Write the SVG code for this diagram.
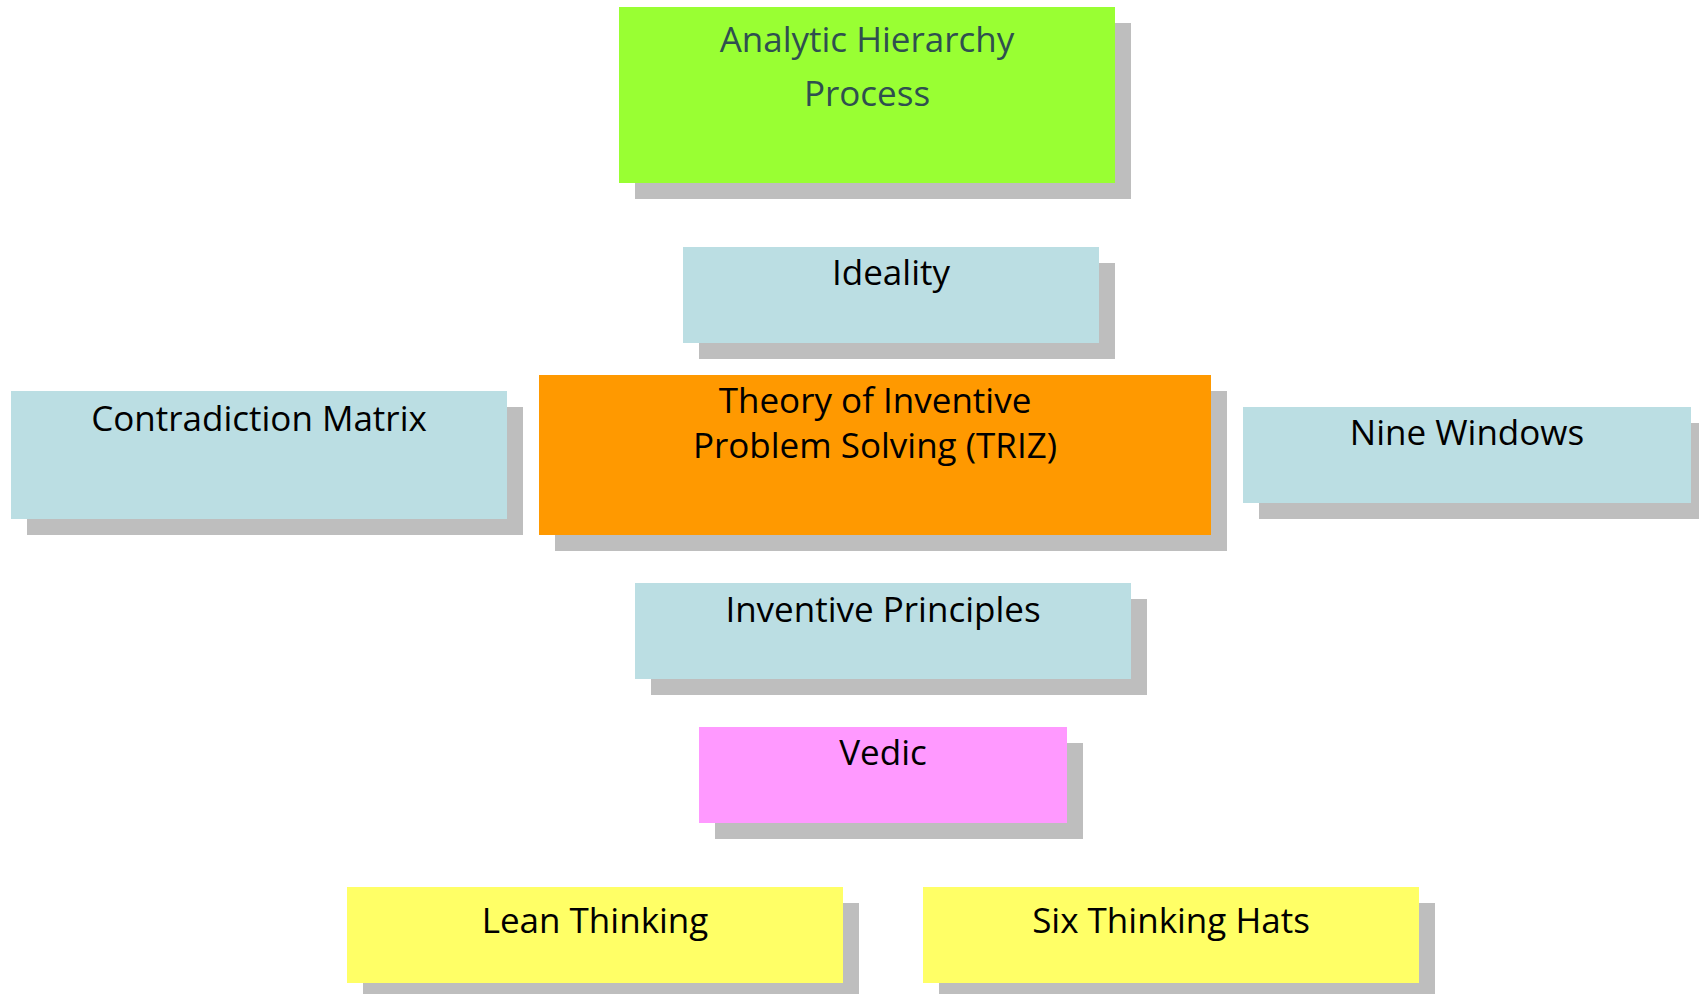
<svg xmlns="http://www.w3.org/2000/svg" width="1699" height="994" viewBox="0 0 1699 994">
<style>
.sh{fill:#bebebe}
.lb{fill:#bbdee3}
.t{font-family:"Open Sans","Liberation Sans",sans-serif;font-size:35px;text-anchor:middle;fill:#000}
</style>
<rect width="1699" height="994" fill="#ffffff"/>
<g id="connectors"></g>
<g id="ahp">
<rect class="sh" x="635" y="23" width="496" height="176"/>
<rect x="619" y="7" width="496" height="176" fill="#99ff33"/>
<text class="t" x="867" y="52" style="fill:#2f4f4f">Analytic Hierarchy</text>
<text class="t" x="867" y="106" style="fill:#2f4f4f">Process</text>
</g>
<g id="ideality">
<rect class="sh" x="699" y="263" width="416" height="96"/>
<rect class="lb" x="683" y="247" width="416" height="96"/>
<text class="t" x="891" y="285">Ideality</text>
</g>
<g id="triz">
<rect class="sh" x="555" y="391" width="672" height="160"/>
<rect x="539" y="375" width="672" height="160" fill="#ff9900"/>
<text class="t" x="875" y="413">Theory of Inventive</text>
<text class="t" x="875" y="458">Problem Solving (TRIZ)</text>
</g>
<g id="contradiction">
<rect class="sh" x="27" y="407" width="496" height="128"/>
<rect class="lb" x="11" y="391" width="496" height="128"/>
<text class="t" x="259" y="431">Contradiction Matrix</text>
</g>
<g id="ninewindows">
<rect class="sh" x="1259" y="423" width="448" height="96"/>
<rect class="lb" x="1243" y="407" width="448" height="96"/>
<text class="t" x="1467" y="445">Nine Windows</text>
</g>
<g id="principles">
<rect class="sh" x="651" y="599" width="496" height="96"/>
<rect class="lb" x="635" y="583" width="496" height="96"/>
<text class="t" x="883" y="622">Inventive Principles</text>
</g>
<g id="vedic">
<rect class="sh" x="715" y="743" width="368" height="96"/>
<rect x="699" y="727" width="368" height="96" fill="#ff99ff"/>
<text class="t" x="883" y="765">Vedic</text>
</g>
<g id="lean">
<rect class="sh" x="363" y="903" width="496" height="96"/>
<rect x="347" y="887" width="496" height="96" fill="#ffff66"/>
<text class="t" x="595" y="933">Lean Thinking</text>
</g>
<g id="sixhats">
<rect class="sh" x="939" y="903" width="496" height="96"/>
<rect x="923" y="887" width="496" height="96" fill="#ffff66"/>
<text class="t" x="1171" y="933">Six Thinking Hats</text>
</g>
</svg>
